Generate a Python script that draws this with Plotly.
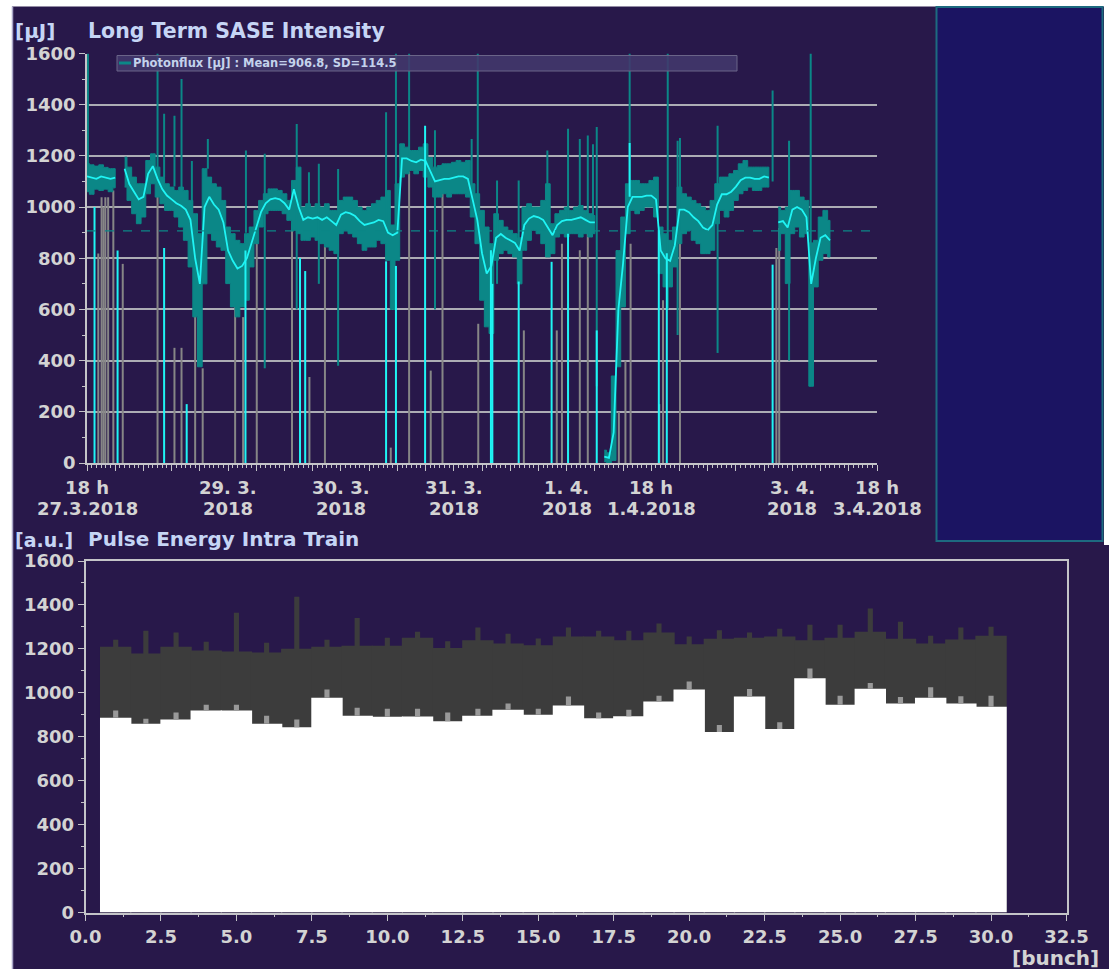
import plotly.graph_objects as go
import pandas as pd

W, H = 1109, 969


def px(x):
    return x / W


def py(y):
    return 1 - y / H


# ---------------- data: Long Term SASE Intensity ----------------
START = pd.Timestamp("2018-03-27 18:00")
END = pd.Timestamp("2018-04-03 18:00")
MEAN = 906.8
SD = 114.5

BAND_HOURS = list(range(159))
BAND_HI = [1170, 1165, 1160, 1165, 1155, 1150, 1150, None, 1195, 1156,
           1117, 1091, 1091, 1182, 1208, 1156, 1117, 1091, 1078, 1065,
           1078, 1065, 1026, 974, 896, 1150, 1117, 1091, 1078, 1026,
           922, 896, 870, 857, 896, 922, 987, 1026, 1052, 1071,
           1071, 1065, 1052, 1026, 1104, 1156, 1000, 1013, 1000, 1013,
           1000, 1013, 987, 987, 1026, 1039, 1039, 1026, 1000, 987,
           1000, 1013, 1026, 1039, 1065, 930, 1091, 1247, 1234, 1221,
           1221, 1234, 1247, 1194, 1156, 1162, 1169, 1169, 1175, 1182,
           1175, 1182, 1091, 1052, 987, 922, 857, 974, 948, 922,
           909, 896, 880, 1000, 1013, 1000, 1000, 1026, 1091, 935,
           974, 987, 1000, 987, 1000, 1006, 987, 974, 967, None,
           50, 40, 340, 830, 961, 1091, 1104, 1104, 1091, 1091,
           1104, 1117, 922, 896, 870, 922, 1078, 1052, 1039, 1026,
           1013, 1000, 987, 1026, 1091, 1117, 1117, 1130, 1143, 1169,
           1182, 1156, 1156, 1156, 1156, 1156, None, 1000, 987, 1000,
           1065, 1065, 1039, 1026, 860, 870, 961, 987, 948]
BAND_LO = [1060, 1050, 1070, 1065, 1070, 1060, 1075, None, 1078, 1026,
           974, 935, 961, 1052, 1091, 1039, 1013, 987, 987, 961,
           922, 870, 766, 571, 376, 700, 896, 870, 844, 831,
           701, 610, 571, 610, 636, 766, 857, 922, 974, 987,
           987, 987, 974, 948, 909, 896, 870, 870, 883, 870,
           857, 844, 831, 818, 896, 909, 896, 883, 857, 831,
           844, 844, 870, 857, 792, 600, 792, 1117, 1130, 1143,
           1130, 1143, 1117, 1078, 1039, 1039, 1052, 1039, 1052, 1052,
           1052, 1039, 961, 857, 636, 532, 506, 792, 818, 831,
           818, 805, 700, 831, 870, 909, 896, 857, 805, 818,
           883, 896, 883, 896, 896, 883, 896, 883, 896, None,
           5, 0, 10, 376, 610, 896, 987, 974, 987, 1000,
           1000, 961, 740, 688, 688, 766, 857, 896, 909, 870,
           857, 818, 818, 831, 935, 987, 961, 987, 1026, 1052,
           1065, 1078, 1065, 1065, 1078, 1078, None, 831, 896, 701,
           896, 922, 883, 896, 300, 688, 792, 818, 805]
BAND_MID = [1120, 1115, 1110, 1120, 1115, 1110, 1115, None, 1150, 1090,
            1060, 1030, 1040, 1130, 1160, 1110, 1070, 1045, 1030, 1015,
            1005, 990, 950, 800, 700, 1000, 1040, 1010, 990, 940,
            830, 790, 760, 770, 800, 860, 920, 980, 1015, 1030,
            1035, 1030, 1015, 990, 1070, 1000, 950, 960, 955, 960,
            950, 960, 945, 930, 970, 980, 975, 965, 945, 930,
            935, 940, 950, 945, 900, 890, 900, 1190, 1190, 1180,
            1175, 1185, 1180, 1140, 1100, 1105, 1110, 1110, 1115, 1120,
            1120, 1110, 1030, 950, 820, 740, 770, 880, 895, 880,
            870, 860, 830, 930, 955, 965, 960, 950, 920, 890,
            930, 945, 950, 950, 955, 960, 950, 940, 940, None,
            25, 20, 120, 600, 780, 1000, 1040, 1040, 1040, 1045,
            1045, 1030, 830, 800, 790, 850, 990, 990, 980, 960,
            945, 920, 910, 930, 1010, 1050, 1050, 1060, 1080, 1105,
            1115, 1115, 1110, 1110, 1120, 1115, None, 940, 945, 920,
            990, 1000, 990, 960, 700, 800, 880, 890, 870]

GRAY_SPIKE_HOURS = [2.4, 3.1, 3.5, 3.9, 4.5, 5.6, 7.6, 15.0, 18.6, 20.1,
                    23.0, 24.6, 31.5, 33.2, 36.1, 43.6, 47.3, 50.6, 64.6, 68.5,
                    73.1, 75.6, 83.2, 92.9, 99.9, 101.0, 102.3, 104.8, 106.5, 113.1,
                    114.5, 115.6, 121.7, 122.5, 126.1, 146.6, 147.2]
GRAY_SPIKE_TOP = [819, 1038, 1000, 1038, 1038, 1065, 778, 1150, 450, 450,
                  623, 370, 687, 570, 869, 935, 336, 869, 60, 1139,
                  361, 1065, 544, 518, 518, 857, 623, 831, 900, 200,
                  400, 857, 230, 636, 930, 840, 918]

TEAL_SPIKE_HOURS = [0.2, 15.0, 16.4, 18.6, 20.1, 22.3, 25.7, 33.8, 37.8, 44.6,
                    47.2, 49.3, 53.4, 63.6, 65.7, 68.5, 74.0, 81.8, 83.1, 87.2,
                    91.8, 97.9, 102.3, 104.8, 106.5, 107.6, 108.4, 115.4, 123.5, 125.6,
                    126.1, 134.1, 145.8, 149.3, 153.9]
TEAL_SPIKE_LO = [1100, 1150, 1117, 1080, 1060, 900, 1150, 900, 370, 600,
                 1000, 700, 380, 900, 900, 1200, 600, 1000, 1000, 700,
                 800, 950, 950, 950, 950, 950, 300, 1000, 600, 500,
                 900, 430, 1100, 400, 300]
TEAL_SPIKE_HI = [1600, 1600, 1365, 1357, 1500, 1180, 1266, 1221, 1208, 1325,
                 1136, 1169, 1149, 1370, 1600, 1600, 1300, 1266, 1600, 1104,
                 1104, 1221, 1306, 1266, 1280, 1245, 1313, 1600, 1600, 1259,
                 1270, 1318, 1455, 1259, 1600]

CYAN_SPIKE_HOURS = [1.6, 6.5, 16.4, 21.2, 33.7, 45.3, 46.4, 63.6, 65.7, 71.9,
                    85.9, 86.2, 91.8, 98.8, 102.3, 108.4, 115.4, 121.6, 123.3, 145.8]
CYAN_SPIKE_LO = [0, 0, 0, 0, 0, 0, 0, 0, 0, 0,
                 0, 0, 0, 0, 0, 0, 1040, 0, 0, 0]
CYAN_SPIKE_HI = [1000, 830, 840, 230, 830, 801, 750, 788, 770, 1318,
                 831, 700, 709, 786, 896, 518, 1250, 909, 820, 775]

TIME_LABEL_HOURS = [0, 30, 54, 78, 102, 120, 150, 168]
TIME_LABEL_LINE1 = ["18 h", "29. 3.", "30. 3.", "31. 3.", "1. 4.", "18 h", "3. 4.", "18 h"]
TIME_LABEL_LINE2 = ["27.3.2018", "2018", "2018", "2018", "2018", "1.4.2018", "2018", "3.4.2018"]

# ---------------- data: Pulse Energy Intra Train ----------------
BUNCH = list(range(1, 31))
PULSE_MEAN = [887, 859, 878, 919, 919, 859, 843, 977, 896, 891,
              892, 870, 896, 923, 900, 942, 884, 893, 960, 1015,
              822, 983, 835, 1066, 946, 1018, 951, 977, 951, 937]
PULSE_MEAN_ERR_TOP = [919, 882, 910, 946, 946, 896, 878, 1015, 932, 928,
                      928, 910, 928, 951, 928, 983, 910, 923, 987, 1051,
                      854, 1017, 866, 1111, 987, 1045, 981, 1025, 984, 987]
PULSE_MAX = [1210, 1179, 1210, 1193, 1188, 1184, 1201, 1210, 1214, 1214,
             1251, 1204, 1239, 1225, 1216, 1256, 1256, 1239, 1274, 1221,
             1246, 1251, 1256, 1239, 1251, 1278, 1246, 1225, 1243, 1260]
PULSE_MAX_PEAK = [1242, 1283, 1274, 1233, 1364, 1228, 1437, 1242, 1341, 1251,
                  1278, 1235, 1297, 1269, 1247, 1297, 1283, 1283, 1315, 1256,
                  1285, 1274, 1292, 1310, 1310, 1384, 1324, 1260, 1297, 1301]

# ---------------- styling ----------------
BG = "#28184a"
PANEL = "#1b1462"
PANEL_EDGE = "#1d6a80"
TEAL = "#0b8787"
CYAN = "#1ff4f4"
GRAY = "#868686"
AXIS = "#c4c4c8"
GRID = "#acacb4"
TICKC = "#d3d3d3"
TITLEC = "#c6d5f5"
FONT = "DejaVu Sans"


def t(h):
    return START + pd.Timedelta(hours=h)


def segs(hours, lo, hi):
    xs, ys = [], []
    for h, a, b in zip(hours, lo, hi):
        xs += [t(h), t(h), None]
        ys += [a, b, None]
    return xs, ys


fig = go.Figure()

# gray drop lines (behind band)
gx, gy = segs(GRAY_SPIKE_HOURS, [0] * len(GRAY_SPIKE_HOURS), GRAY_SPIKE_TOP)
fig.add_trace(go.Scatter(x=gx, y=gy, mode="lines", line=dict(color=GRAY, width=2),
                         xaxis="x", yaxis="y", hoverinfo="skip"))

# band (min..max) as filled polygons per continuous segment
segments = []
cur = []
for h, lo, hi in zip(BAND_HOURS, BAND_LO, BAND_HI):
    if lo is None:
        if cur:
            segments.append(cur)
        cur = []
    else:
        cur.append((h, lo, hi))
if cur:
    segments.append(cur)
for seg in segments:
    xs = [t(h) for h, _, _ in seg] + [t(h) for h, _, _ in reversed(seg)]
    ys = [hi for _, _, hi in seg] + [lo for _, lo, _ in reversed(seg)]
    fig.add_trace(go.Scatter(x=xs, y=ys, mode="lines", fill="toself", fillcolor=TEAL,
                             line=dict(color=TEAL, width=1, shape="hvh"),
                             xaxis="x", yaxis="y", hoverinfo="skip"))

# teal outlier spikes
tx, ty = segs(TEAL_SPIKE_HOURS, TEAL_SPIKE_LO, TEAL_SPIKE_HI)
fig.add_trace(go.Scatter(x=tx, y=ty, mode="lines", line=dict(color=TEAL, width=2),
                         xaxis="x", yaxis="y", hoverinfo="skip"))

# cyan mean line
fig.add_trace(go.Scatter(x=[t(h) for h in BAND_HOURS], y=BAND_MID, mode="lines",
                         line=dict(color=CYAN, width=1.8), connectgaps=False,
                         xaxis="x", yaxis="y", hoverinfo="skip"))

# cyan drop lines
cx, cy = segs(CYAN_SPIKE_HOURS, CYAN_SPIKE_LO, CYAN_SPIKE_HI)
fig.add_trace(go.Scatter(x=cx, y=cy, mode="lines", line=dict(color=CYAN, width=2),
                         xaxis="x", yaxis="y", hoverinfo="skip"))

# ---- bottom bars ----
fig.add_trace(go.Bar(x=BUNCH, y=PULSE_MAX_PEAK, width=0.17, marker=dict(color="#3c3c3c", line=dict(width=0)),
                     xaxis="x2", yaxis="y2", hoverinfo="skip"))
fig.add_trace(go.Bar(x=BUNCH, y=PULSE_MAX, width=1.04, marker=dict(color="#3c3c3c", line=dict(width=0)),
                     xaxis="x2", yaxis="y2", hoverinfo="skip"))
fig.add_trace(go.Bar(x=BUNCH, y=PULSE_MEAN, width=1.04, marker=dict(color="#ffffff", line=dict(width=0)),
                     xaxis="x2", yaxis="y2", hoverinfo="skip"))
fig.add_trace(go.Bar(x=BUNCH, y=[a - b for a, b in zip(PULSE_MEAN_ERR_TOP, PULSE_MEAN)], base=PULSE_MEAN,
                     width=0.17, marker=dict(color="#999999", line=dict(width=0)),
                     xaxis="x2", yaxis="y2", hoverinfo="skip"))

tickfont = dict(family=FONT, size=18, color=TICKC, weight="bold")

six_hour_ticks = [t(6 * k) for k in range(29)]

fig.update_layout(
    width=W, height=H,
    margin=dict(l=0, r=0, t=0, b=0, pad=0, autoexpand=False),
    paper_bgcolor=BG, plot_bgcolor=BG,
    showlegend=False, barmode="overlay",
    xaxis=dict(domain=[px(87), px(877)], range=[START, END], type="date", anchor="y",
               automargin=False,
               showgrid=False, zeroline=False, showline=True, linecolor=AXIS, linewidth=1.5,
               ticks="outside", tickvals=six_hour_ticks, ticklen=6, tickcolor=AXIS, tickwidth=1,
               showticklabels=False,
               minor=dict(dtick=3600000, ticks="outside", ticklen=3, tickcolor=AXIS, showgrid=False)),
    yaxis=dict(domain=[py(463), py(53.5)], range=[0, 1600], anchor="x", dtick=200,
               automargin=False,
               showgrid=True, gridcolor=GRID, gridwidth=1.5, zeroline=False,
               showline=True, linecolor=AXIS, linewidth=1.5,
               ticks="outside", ticklen=6, tickcolor=AXIS, tickfont=tickfont,
               minor=dict(dtick=100, ticks="outside", ticklen=3, tickcolor=AXIS, showgrid=False)),
    xaxis2=dict(domain=[px(85.5), px(1066.5)], range=[0, 32.5], anchor="y2",
                automargin=False,
                tick0=0, dtick=2.5, tickformat=".1f", showgrid=False, zeroline=False,
                showline=True, mirror=True, linecolor=AXIS, linewidth=1.5,
                ticks="outside", ticklen=7, tickcolor=AXIS, tickfont=tickfont,
                minor=dict(dtick=1.25, ticks="outside", ticklen=3, tickcolor=AXIS, showgrid=False)),
    yaxis2=dict(domain=[py(912.5), py(561)], range=[0, 1600], anchor="x2", dtick=200,
                automargin=False,
                showgrid=False, zeroline=False, showline=True, mirror=True,
                linecolor=AXIS, linewidth=1.5, ticks="outside", ticklen=6, tickcolor=AXIS,
                tickfont=tickfont,
                minor=dict(dtick=100, ticks="outside", ticklen=3, tickcolor=AXIS, showgrid=False)),
)

shapes = [
    # white page margins
    dict(type="rect", xref="paper", yref="paper", x0=0, x1=px(12), y0=0, y1=1,
         fillcolor="white", line=dict(width=0), layer="below"),
    dict(type="rect", xref="paper", yref="paper", x0=0, x1=1, y0=py(6.5), y1=1,
         fillcolor="white", line=dict(width=0), layer="below"),
    dict(type="rect", xref="paper", yref="paper", x0=px(1104), x1=1, y0=py(545), y1=1,
         fillcolor="white", line=dict(width=0), layer="below"),
    dict(type="line", xref="paper", yref="paper", x0=px(12.5), x1=px(12.5), y0=0, y1=py(6.5),
         line=dict(color="#aaa6c8", width=1.5), layer="below"),
    # right side panel
    dict(type="rect", xref="paper", yref="paper", x0=px(936.5), x1=px(1102.5), y0=py(541), y1=py(7),
         fillcolor=PANEL, line=dict(color=PANEL_EDGE, width=2), layer="below"),
    # mean line
    dict(type="line", xref="x domain", yref="y", x0=0, x1=1, y0=MEAN, y1=MEAN,
         line=dict(color=TEAL, width=1.2, dash="dash"), layer="above"),
    # legend box
    dict(type="rect", xref="paper", yref="paper", x0=px(117), x1=px(737), y0=py(71), y1=py(55.5),
         fillcolor="rgba(66,56,108,0.88)", line=dict(color="#6a6488", width=1), layer="above"),
    dict(type="line", xref="paper", yref="paper", x0=px(119), x1=px(131), y0=py(63), y1=py(63),
         line=dict(color=TEAL, width=3), layer="above"),
]
fig.update_layout(shapes=shapes)

ann = []


def text(x, y, s, size, color, xanchor="left", xref="paper"):
    ann.append(dict(x=x, y=y, xref=xref, yref="paper", text=s, showarrow=False,
                    xanchor=xanchor, yanchor="middle",
                    font=dict(family=FONT, size=size, color=color, weight="bold")))


text(px(13), py(31), "[µJ]", 20, TITLEC)
text(px(86), py(31), "Long Term SASE Intensity", 20.5, TITLEC)
text(px(13), py(540), "[a.u.]", 19, TITLEC)
text(px(86), py(539), "Pulse Energy Intra Train", 20, TITLEC)
text(px(1101), py(958), "[bunch]", 20, TICKC, xanchor="right")
text(px(131), py(63), "Photonflux [µJ] : Mean=%.1f, SD=%.1f" % (MEAN, SD), 11.5, "#c4d2ec")

for h, l1, l2 in zip(TIME_LABEL_HOURS, TIME_LABEL_LINE1, TIME_LABEL_LINE2):
    text(t(h), py(487.5), l1, 18, TICKC, xanchor="center", xref="x")
    text(t(h), py(508), l2, 18, TICKC, xanchor="center", xref="x")

fig.update_layout(annotations=ann)

fig.write_html("out.html")
